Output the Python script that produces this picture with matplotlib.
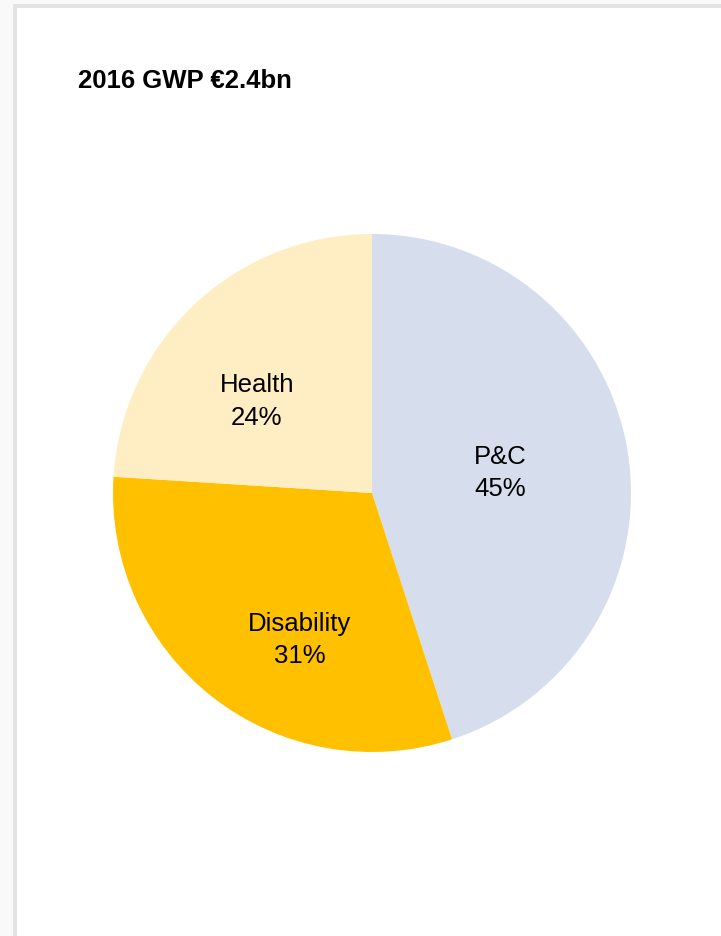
import matplotlib
matplotlib.use("Agg")
import matplotlib.pyplot as plt
from matplotlib.patches import Rectangle
import numpy as np

# Gross written premium split, 2016
segments = ["P&C", "Disability", "Health"]
shares = [45, 31, 24]
colors = ["#D6DEEE", "#FFC000", "#FFEDC3"]
title = "2016 GWP €2.4bn"

# label anchor positions inside each wedge (fraction of radius, angle in degrees)
label_radius = [0.50, 0.63, 0.57]
label_angle = [9.3, -116.4, 141.3]

W, H = 721, 937
plt.rcParams["font.family"] = ["Liberation Sans", "DejaVu Sans"]
fig = plt.figure(figsize=(W / 100, H / 100), dpi=100, facecolor="white")

# page frame: pale margin with a soft grey edge on the left and top
def px_rect(x0, y0, x1, y1, color):
    fig.patches.append(Rectangle((x0 / W, 1 - y1 / H), (x1 - x0) / W, (y1 - y0) / H,
                                 transform=fig.transFigure, facecolor=color,
                                 edgecolor="none", zorder=0))

px_rect(0, 0, 13, H, "#F9F9F9")
px_rect(0, 0, W, 5, "#F9F9F9")
px_rect(13, 5, 17, H, "#E3E3E3")
px_rect(13, 5, W, 9, "#E3E3E3")

# pie axes: centre (372, 494) px, radius ~259 px
cx, cy, r = 372, 494, 259
ax = fig.add_axes([(cx - r) / W, (H - cy - r) / H, 2 * r / W, 2 * r / H])
ax.pie(shares, colors=colors, startangle=90, counterclock=False, radius=1.0,
       wedgeprops=dict(linewidth=0))
ax.set_xlim(-1, 1)
ax.set_ylim(-1, 1)
ax.set_aspect("equal")
ax.axis("off")

for name, val, lr, la in zip(segments, shares, label_radius, label_angle):
    t = np.deg2rad(la)
    ax.text(lr * np.cos(t), lr * np.sin(t), f"{name}\n{val}%", ha="center", va="center",
            fontsize=18.5, color="black", linespacing=1.45)

fig.text(78 / W, 1 - 88 / H, title, ha="left", va="baseline",
         fontsize=18.5, fontweight="bold", color="black")

fig.savefig("out.png", dpi=100, facecolor="white")
